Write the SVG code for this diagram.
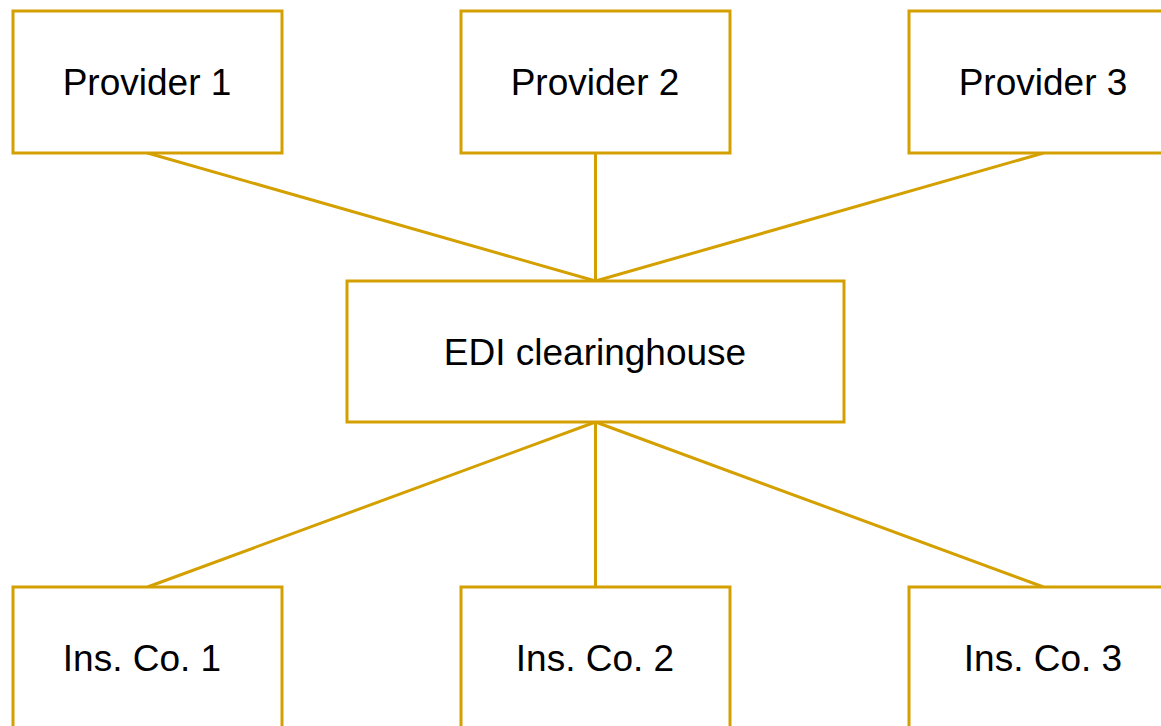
<svg xmlns="http://www.w3.org/2000/svg" width="1161" height="726" viewBox="0 0 1161 726">
<style>
.box{fill:#fff;stroke:#d4a000;stroke-width:3}
.con{stroke:#d4a000;stroke-width:3;fill:none}
.lbl{font-family:"Liberation Sans",Arial,sans-serif;font-size:37px;fill:#000;text-anchor:middle}
</style>
<rect width="1161" height="726" fill="#fff"/>
<g id="connectors">
<line class="con" x1="147.5" y1="153" x2="595.5" y2="281"/>
<line class="con" x1="595.5" y1="153" x2="595.5" y2="281"/>
<line class="con" x1="1043.5" y1="153" x2="595.5" y2="281"/>
<line class="con" x1="595.5" y1="422" x2="147.5" y2="587"/>
<line class="con" x1="595.5" y1="422" x2="595.5" y2="587"/>
<line class="con" x1="595.5" y1="422" x2="1043.5" y2="587"/>
</g>
<g id="provider1"><rect class="box" x="13" y="11" width="269" height="142"/><text class="lbl" x="147" y="95">Provider 1</text></g>
<g id="provider2"><rect class="box" x="461" y="11" width="269" height="142"/><text class="lbl" x="595" y="95">Provider 2</text></g>
<g id="provider3"><rect class="box" x="909" y="11" width="269" height="142"/><text class="lbl" x="1043" y="95">Provider 3</text></g>
<g id="edi"><rect class="box" x="347" y="281" width="497" height="141"/><text class="lbl" x="595" y="365">EDI clearinghouse</text></g>
<g id="ins1"><rect class="box" x="13" y="587" width="269" height="142"/><text class="lbl" x="142" y="671">Ins. Co. 1</text></g>
<g id="ins2"><rect class="box" x="461" y="587" width="269" height="142"/><text class="lbl" x="595" y="671">Ins. Co. 2</text></g>
<g id="ins3"><rect class="box" x="909" y="587" width="269" height="142"/><text class="lbl" x="1043" y="671">Ins. Co. 3</text></g>
</svg>
